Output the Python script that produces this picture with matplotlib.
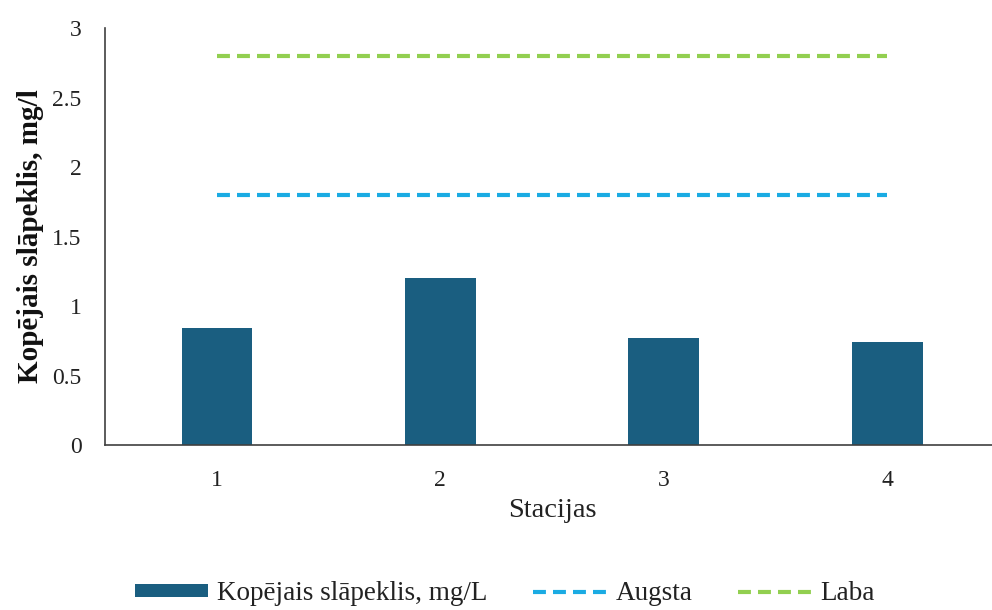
import matplotlib
matplotlib.use("Agg")
import matplotlib.pyplot as plt

stacijas = [1, 2, 3, 4]
slapeklis = [0.84, 1.20, 0.77, 0.74]
augsta = [1.8, 1.8, 1.8, 1.8]
laba = [2.8, 2.8, 2.8, 2.8]

plt.rcParams['font.family'] = ['Liberation Serif', 'DejaVu Serif']

fig = plt.figure(figsize=(9.92, 6.10), dpi=100)
ax = fig.add_axes([0.106, 0.2705, 0.901, 0.6835])

bars = ax.bar(stacijas, slapeklis, width=0.316, color='#1a5e80',
              label='Kopējais slāpeklis, mg/L', zorder=2)
l_aug, = ax.plot(stacijas, augsta, color='#1aabe3', lw=3, dashes=(3.1, 1.7),
                 label='Augsta', zorder=3)
l_lab, = ax.plot(stacijas, laba, color='#92cf50', lw=3, dashes=(3.1, 1.7),
                 label='Laba', zorder=3)

ax.set_xlim(0.5, 4.5)
ax.set_ylim(0, 3)
ax.set_xticks(stacijas)
ax.set_yticks([0, 0.5, 1, 1.5, 2, 2.5, 3])
ax.set_yticklabels(['0', '0.5', '1', '1.5', '2', '2.5', '3'])

for s in ['top', 'right']:
    ax.spines[s].set_visible(False)
for s in ['left', 'bottom']:
    ax.spines[s].set_color('#404040')
    ax.spines[s].set_linewidth(1.2)

ax.tick_params(axis='both', length=0, labelsize=17, colors='#222222')
ax.tick_params(axis='y', pad=17)
ax.tick_params(axis='x', pad=18)

ax.set_xlabel('Stacijas', fontsize=20.5, color='#222222', labelpad=5)
ax.set_ylabel('Kopējais slāpeklis, mg/l', fontsize=21, fontweight='bold', color='#111111')
ax.yaxis.set_label_coords(-0.068, 0.5)

fig.legend(handles=[bars, l_aug, l_lab], loc='center', bbox_to_anchor=(0.509, 0.027),
           ncol=3, frameon=False, fontsize=19.5, handlelength=2.7, handleheight=0.4,
           columnspacing=1.7, handletextpad=0.33, labelcolor='#222222')

fig.savefig('out.png', dpi=100)
